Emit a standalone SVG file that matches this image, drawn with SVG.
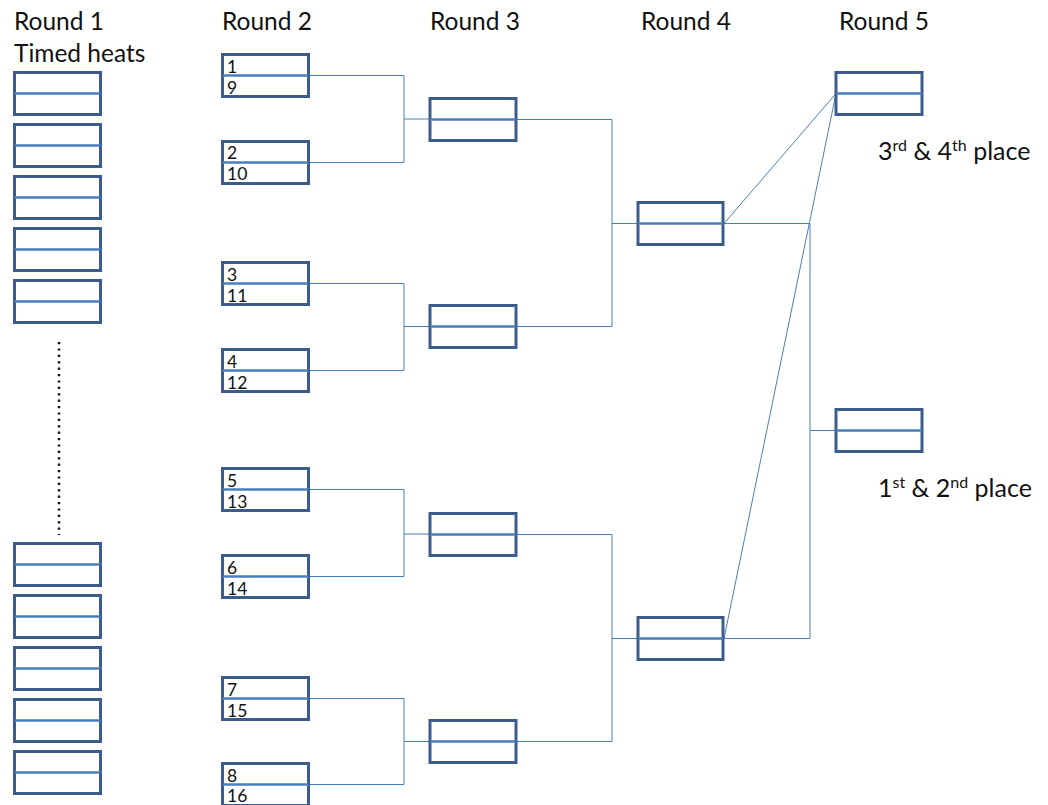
<svg xmlns="http://www.w3.org/2000/svg" width="1048" height="805" viewBox="0 0 1048 805">
<style>
.box{fill:#fff;stroke:#3B5C8C;stroke-width:3}
.mid{stroke:#4A7EBB;stroke-width:2.5}
.conn{fill:none;stroke:#4A7EBB;stroke-width:1}
.hd{font-family:Lato,"Liberation Sans",sans-serif;font-size:24.5px;fill:#111}
.num{font-family:Lato,"Liberation Sans",sans-serif;font-size:17.5px;fill:#111}
.pl{font-family:Lato,"Liberation Sans",sans-serif;font-size:25px;fill:#111}
.sup{font-size:16px}
</style>
<rect width="1048" height="805" fill="#fff"/>
<g id="headings">
<text class="hd" x="14" y="30">Round 1</text>
<text class="hd" x="14" y="62">Timed heats</text>
<text class="hd" x="222" y="30">Round 2</text>
<text class="hd" x="430" y="30">Round 3</text>
<text class="hd" x="641" y="30">Round 4</text>
<text class="hd" x="839" y="30">Round 5</text>
</g>
<g id="connectors">
<path class="conn" d="M310 75.5H404V162.5H310M404 119H430"/>
<path class="conn" d="M310 283.5H404V370.5H310M404 326.5H430"/>
<path class="conn" d="M310 489.5H404V576.5H310M404 534H430"/>
<path class="conn" d="M310 698.5H404V784.5H310M404 741.5H430"/>
<path class="conn" d="M517 119.5H612V326.5H517M612 223.5H638"/>
<path class="conn" d="M517 534.5H612V741.5H517M612 638.5H638"/>
<path class="conn" d="M724 223.5H810V638.5H724M810 430.5H836"/>
<path class="conn" d="M724 223.5L836 93.5M724 638.5L836 93.5"/>
<line x1="59" y1="342" x2="59" y2="535" stroke="#111" stroke-width="2.5" stroke-dasharray="2.2 4.2"/>
</g>
<g id="round1">
<g id="r1-1"><rect class="box" x="14.5" y="72.5" width="86" height="42"/><line class="mid" x1="14.5" y1="93.5" x2="100.5" y2="93.5"/></g>
<g id="r1-2"><rect class="box" x="14.5" y="124.5" width="86" height="42"/><line class="mid" x1="14.5" y1="145.5" x2="100.5" y2="145.5"/></g>
<g id="r1-3"><rect class="box" x="14.5" y="176.5" width="86" height="42"/><line class="mid" x1="14.5" y1="197.5" x2="100.5" y2="197.5"/></g>
<g id="r1-4"><rect class="box" x="14.5" y="228.5" width="86" height="42"/><line class="mid" x1="14.5" y1="249.5" x2="100.5" y2="249.5"/></g>
<g id="r1-5"><rect class="box" x="14.5" y="280.5" width="86" height="42"/><line class="mid" x1="14.5" y1="301.5" x2="100.5" y2="301.5"/></g>
<g id="r1-6"><rect class="box" x="14.5" y="543.5" width="86" height="42"/><line class="mid" x1="14.5" y1="564.5" x2="100.5" y2="564.5"/></g>
<g id="r1-7"><rect class="box" x="14.5" y="595.5" width="86" height="42"/><line class="mid" x1="14.5" y1="616.5" x2="100.5" y2="616.5"/></g>
<g id="r1-8"><rect class="box" x="14.5" y="647.5" width="86" height="42"/><line class="mid" x1="14.5" y1="668.5" x2="100.5" y2="668.5"/></g>
<g id="r1-9"><rect class="box" x="14.5" y="699.5" width="86" height="42"/><line class="mid" x1="14.5" y1="720.5" x2="100.5" y2="720.5"/></g>
<g id="r1-10"><rect class="box" x="14.5" y="751.5" width="86" height="42"/><line class="mid" x1="14.5" y1="772.5" x2="100.5" y2="772.5"/></g>
</g>
<g id="round2">
<g id="r2-1"><rect class="box" x="222.5" y="54.5" width="86" height="42"/><line class="mid" x1="222.5" y1="75.5" x2="308.5" y2="75.5"/><text class="num" x="227" y="73">1</text><text class="num" x="227" y="94">9</text></g>
<g id="r2-2"><rect class="box" x="222.5" y="141.5" width="86" height="42"/><line class="mid" x1="222.5" y1="162.5" x2="308.5" y2="162.5"/><text class="num" x="227" y="159">2</text><text class="num" x="227" y="180">10</text></g>
<g id="r2-3"><rect class="box" x="222.5" y="262.5" width="86" height="42"/><line class="mid" x1="222.5" y1="283.5" x2="308.5" y2="283.5"/><text class="num" x="227" y="281">3</text><text class="num" x="227" y="302">11</text></g>
<g id="r2-4"><rect class="box" x="222.5" y="349.5" width="86" height="42"/><line class="mid" x1="222.5" y1="370.5" x2="308.5" y2="370.5"/><text class="num" x="227" y="368">4</text><text class="num" x="227" y="389">12</text></g>
<g id="r2-5"><rect class="box" x="222.5" y="468.5" width="86" height="42"/><line class="mid" x1="222.5" y1="489.5" x2="308.5" y2="489.5"/><text class="num" x="227" y="487">5</text><text class="num" x="227" y="508">13</text></g>
<g id="r2-6"><rect class="box" x="222.5" y="555.5" width="86" height="42"/><line class="mid" x1="222.5" y1="576.5" x2="308.5" y2="576.5"/><text class="num" x="227" y="574">6</text><text class="num" x="227" y="595">14</text></g>
<g id="r2-7"><rect class="box" x="222.5" y="677.5" width="86" height="42"/><line class="mid" x1="222.5" y1="698.5" x2="308.5" y2="698.5"/><text class="num" x="227" y="696">7</text><text class="num" x="227" y="717">15</text></g>
<g id="r2-8"><rect class="box" x="222.5" y="763.5" width="86" height="42"/><line class="mid" x1="222.5" y1="784.5" x2="308.5" y2="784.5"/><text class="num" x="227" y="782">8</text><text class="num" x="227" y="802">16</text></g>
</g>
<g id="round3">
<g id="r3-1"><rect class="box" x="430" y="98.5" width="86" height="42"/><line class="mid" x1="430" y1="119.5" x2="516" y2="119.5"/></g>
<g id="r3-2"><rect class="box" x="430" y="305.5" width="86" height="42"/><line class="mid" x1="430" y1="326.5" x2="516" y2="326.5"/></g>
<g id="r3-3"><rect class="box" x="430" y="513.5" width="86" height="42"/><line class="mid" x1="430" y1="534.5" x2="516" y2="534.5"/></g>
<g id="r3-4"><rect class="box" x="430" y="720.5" width="86" height="42"/><line class="mid" x1="430" y1="741.5" x2="516" y2="741.5"/></g>
</g>
<g id="round4">
<g id="r4-1"><rect class="box" x="638" y="202.5" width="85" height="42"/><line class="mid" x1="638" y1="223.5" x2="723" y2="223.5"/></g>
<g id="r4-2"><rect class="box" x="638" y="617.5" width="85" height="42"/><line class="mid" x1="638" y1="638.5" x2="723" y2="638.5"/></g>
</g>
<g id="round5">
<g id="r5-1"><rect class="box" x="836" y="72.5" width="86" height="42"/><line class="mid" x1="836" y1="93.5" x2="922" y2="93.5"/></g>
<g id="r5-2"><rect class="box" x="836" y="409.5" width="86" height="42"/><line class="mid" x1="836" y1="430.5" x2="922" y2="430.5"/></g>
</g>
<g id="labels">
<text class="pl" x="878" y="160">3<tspan class="sup" dy="-9">rd</tspan><tspan dy="9"> &amp; 4</tspan><tspan class="sup" dy="-9">th</tspan><tspan dy="9"> place</tspan></text>
<text class="pl" x="878" y="497">1<tspan class="sup" dy="-9">st</tspan><tspan dy="9"> &amp; 2</tspan><tspan class="sup" dy="-9">nd</tspan><tspan dy="9"> place</tspan></text>
</g>
</svg>
